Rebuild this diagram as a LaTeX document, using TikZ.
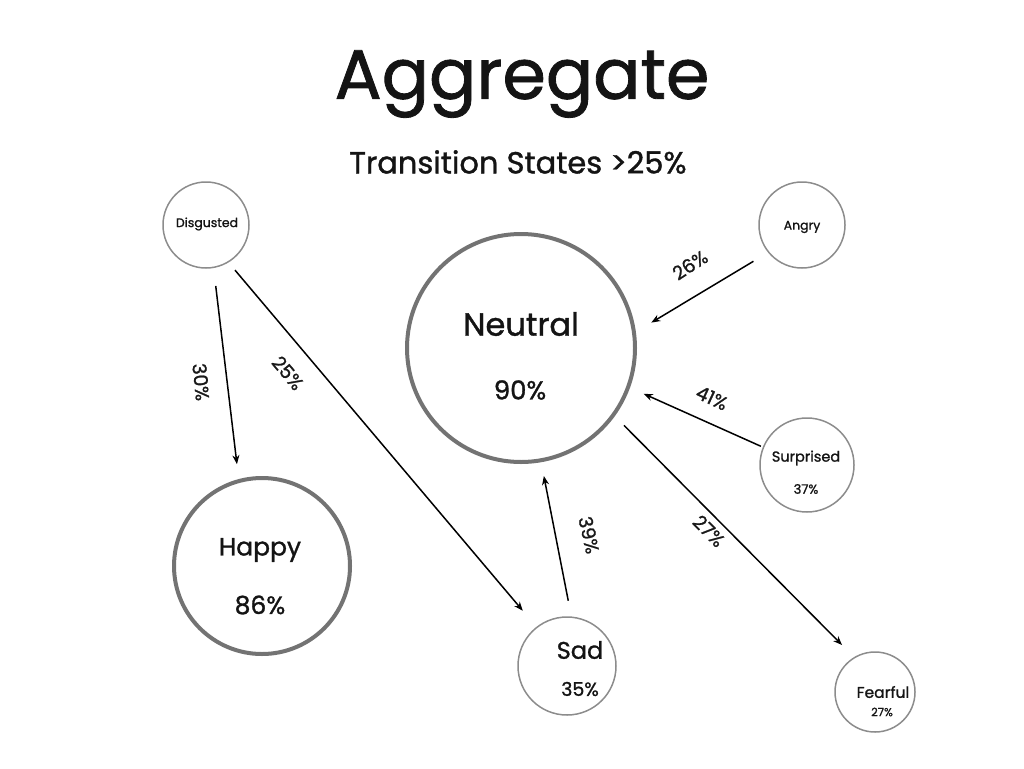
\documentclass[tikz,border=0pt]{standalone}
\usepackage{fontspec}
\setmainfont{Poppins}[FakeBold=1.2]
\usetikzlibrary{arrows.meta}
\begin{document}
\begin{tikzpicture}[x=1pt,y=-1pt,
  state/.style={circle,draw=black!45,line width=1.5pt,inner sep=0pt},
  bigstate/.style={circle,draw=black!55,line width=4pt,inner sep=0pt},
  conn/.style={draw=black,line width=1.5pt,-{Stealth[length=9pt,width=7pt]}},
  lbl/.style={font=\fontsize{19}{19}\selectfont,text=black!90,inner sep=0pt},
  txt/.style={text=black!92,inner sep=0pt}]
\useasboundingbox (0,0) rectangle (1024,768);
% title
\node[txt,font=\fontsize{70}{70}\selectfont] (title) at (522,84) {Aggregate};
\node[txt,font=\fontsize{30.5}{30.5}\selectfont] (sub) at (518,162) {Transition States >25\%};
% states
\node[state,minimum size=86pt] (dis) at (206,225) {};
\node[state,minimum size=86pt] (ang) at (802,225) {};
\node[bigstate,minimum size=228pt] (neu) at (521,348) {};
\node[bigstate,minimum size=176pt] (hap) at (262,566) {};
\node[state,minimum size=94pt] (sur) at (807,465) {};
\node[state,minimum size=98pt] (sad) at (567,666) {};
\node[state,minimum size=80pt] (fea) at (875,692) {};
% texts
\node[txt,font=\fontsize{12.5}{12.5}\selectfont] (tdis) at (207,224) {Disgusted};
\node[txt,font=\fontsize{12.5}{12.5}\selectfont] (tang) at (802,227) {Angry};
\node[txt,font=\fontsize{32}{32}\selectfont] (tneu) at (521,324) {Neutral};
\node[txt,font=\fontsize{26}{26}\selectfont] (pneu) at (520,390) {90\%};
\node[txt,font=\fontsize{25}{25}\selectfont] (thap) at (260,550) {Happy};
\node[txt,font=\fontsize{25}{25}\selectfont] (phap) at (260,605) {86\%};
\node[txt,font=\fontsize{14.5}{14.5}\selectfont] (tsur) at (806,458) {Surprised};
\node[txt,font=\fontsize{13}{13}\selectfont] (psur) at (806,489) {37\%};
\node[txt,font=\fontsize{24}{24}\selectfont] (tsad) at (580,650) {Sad};
\node[txt,font=\fontsize{19}{19}\selectfont] (psad) at (580,689) {35\%};
\node[txt,font=\fontsize{15.5}{15.5}\selectfont] (tfea) at (883,692) {Fearful};
\node[txt,font=\fontsize{11.5}{11.5}\selectfont] (pfea) at (882,712) {27\%};
% connectors
\draw[conn,shorten <=18pt,shorten >=15pt] (dis.-80.5) -- (hap.105.5);
\draw[conn,shorten <=10pt,shorten >=21pt] (dis.-59) -- (sad.128);
\draw[conn,shorten <=17pt,shorten >=18pt] (ang.-141) -- (neu.8.5);
\draw[conn,shorten <=2pt,shorten >=15pt] (sur.158) -- (neu.-20);
\draw[conn,shorten <=16pt,shorten >=14pt] (sad.85.7) -- (neu.-80.4);
\draw[conn,shorten <=13pt,shorten >=17pt] (neu.-36) -- (fea.121.5);
% labels
\node[lbl,rotate=-84] (l30) at (201,382) {30\%};
\node[lbl,rotate=-50] (l25) at (288,373) {25\%};
\node[lbl,rotate=33] (l26) at (690,265) {26\%};
\node[lbl,rotate=-25] (l41) at (712,398) {41\%};
\node[lbl,rotate=-77] (l39) at (589,535) {39\%};
\node[lbl,rotate=-45] (l27) at (709,531) {27\%};
\end{tikzpicture}
\end{document}
